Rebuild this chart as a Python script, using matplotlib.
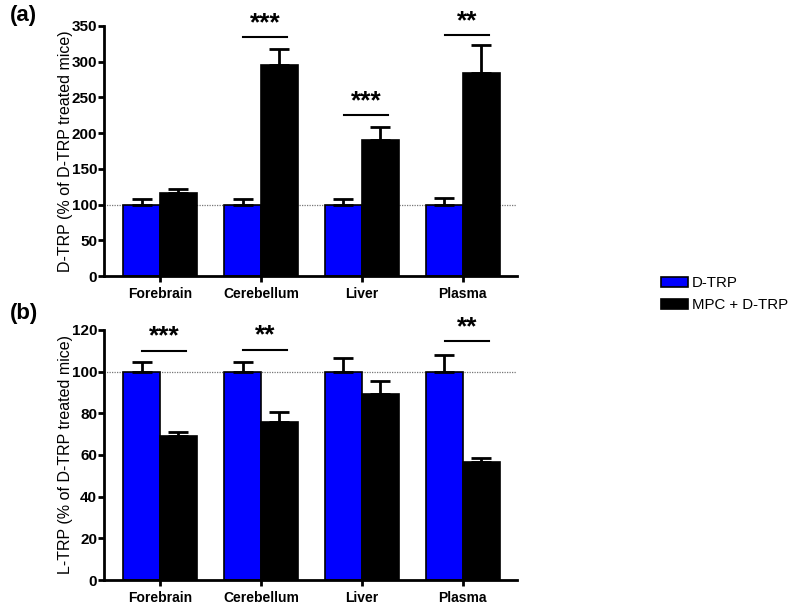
import numpy as np
import matplotlib
matplotlib.use('Agg')
import matplotlib.pyplot as plt

plt.rcParams['font.family'] = ['Liberation Sans', 'DejaVu Sans']

regiones = ['Forebrain', 'Cerebellum', 'Liver', 'Plasma']
series = ['D-TRP', 'MPC + D-TRP']
colores = ['#0000ff', '#000000']

# panel (a): D-TRP
d_ctrl = [100, 100, 100, 100]
d_ctrl_err = [8, 8, 8, 9]
d_mpc = [116, 295, 190, 284]
d_mpc_err = [6, 23, 18, 39]
d_sig = [None, '***', '***', '**']
d_sig_y = [None, 334, 225, 337]

# panel (b): L-TRP
l_ctrl = [100, 100, 100, 100]
l_ctrl_err = [4.5, 4.5, 6.5, 8]
l_mpc = [69, 76, 89, 56.5]
l_mpc_err = [2, 4.5, 6.5, 2]
l_sig = ['***', '**', None, '**']
l_sig_y = [110, 110.5, None, 114.5]

fig = plt.figure(figsize=(7.95, 6.03), dpi=100)
ax_a = fig.add_axes([0.131, 0.542, 0.519, 0.415])
ax_b = fig.add_axes([0.131, 0.038, 0.519, 0.415])

ancho = 0.365
x = np.arange(len(regiones))

def panel(ax, ctrl, ctrl_err, mpc, mpc_err, sig, sig_y, ymax, paso, ylabel, letra, y_letra):
    barras = []
    for k, (vals, errs) in enumerate([(ctrl, ctrl_err), (mpc, mpc_err)]):
        pos = x + (k - 0.5) * ancho
        b = ax.bar(pos, vals, ancho, color=colores[k], edgecolor='black', linewidth=1.2,
                   label=series[k], zorder=2)
        barras.append(b)
        ax.errorbar(pos, vals, yerr=[np.zeros(len(vals)), errs], fmt='none', ecolor='black',
                    elinewidth=2, capsize=7, capthick=2, zorder=3)
    ax.axhline(100, color='#777777', linestyle=(0, (1, 1)), linewidth=0.9, zorder=1)
    for i, s in enumerate(sig):
        if s is None:
            continue
        ax.plot([x[i] - 0.18, x[i] + 0.26], [sig_y[i], sig_y[i]], color='black', lw=1.5)
        ax.text(x[i] + 0.04, sig_y[i] + ymax * 0.008, s, ha='center', va='bottom',
                fontsize=19, fontweight='bold')
    ax.set_xlim(-0.554, 3.535)
    ax.set_ylim(0, ymax)
    ax.set_yticks(np.arange(0, ymax + 1, paso))
    ax.set_xticks(x)
    ax.set_xticklabels(regiones, fontweight='bold', fontsize=10)
    for t in ax.get_yticklabels():
        t.set_fontweight('bold')
        t.set_fontsize(11)
    ax.set_ylabel(ylabel, fontsize=11.5, labelpad=-1)
    for lado in ['top', 'right']:
        ax.spines[lado].set_visible(False)
    for lado in ['left', 'bottom']:
        ax.spines[lado].set_linewidth(2)
    ax.tick_params(axis='y', width=2, length=4, pad=1, direction='out')
    ax.tick_params(axis='x', width=2, length=4, direction='out')
    fig.text(0.012, y_letra, letra, fontsize=16, fontweight='bold', va='center')
    return barras

barras = panel(ax_a, d_ctrl, d_ctrl_err, d_mpc, d_mpc_err, d_sig, d_sig_y, 350, 50,
               'D-TRP (% of D-TRP treated mice)', '(a)', 0.975)
panel(ax_b, l_ctrl, l_ctrl_err, l_mpc, l_mpc_err, l_sig, l_sig_y, 120, 20,
      'L-TRP (% of D-TRP treated mice)', '(b)', 0.48)

fig.legend(handles=barras, labels=series, loc='center left', bbox_to_anchor=(0.82, 0.512),
           frameon=False, fontsize=10.8, handlelength=1.8, handleheight=0.7,
           handletextpad=0.25, labelspacing=0.55, borderaxespad=0.2)

fig.savefig('out.png', dpi=100)
